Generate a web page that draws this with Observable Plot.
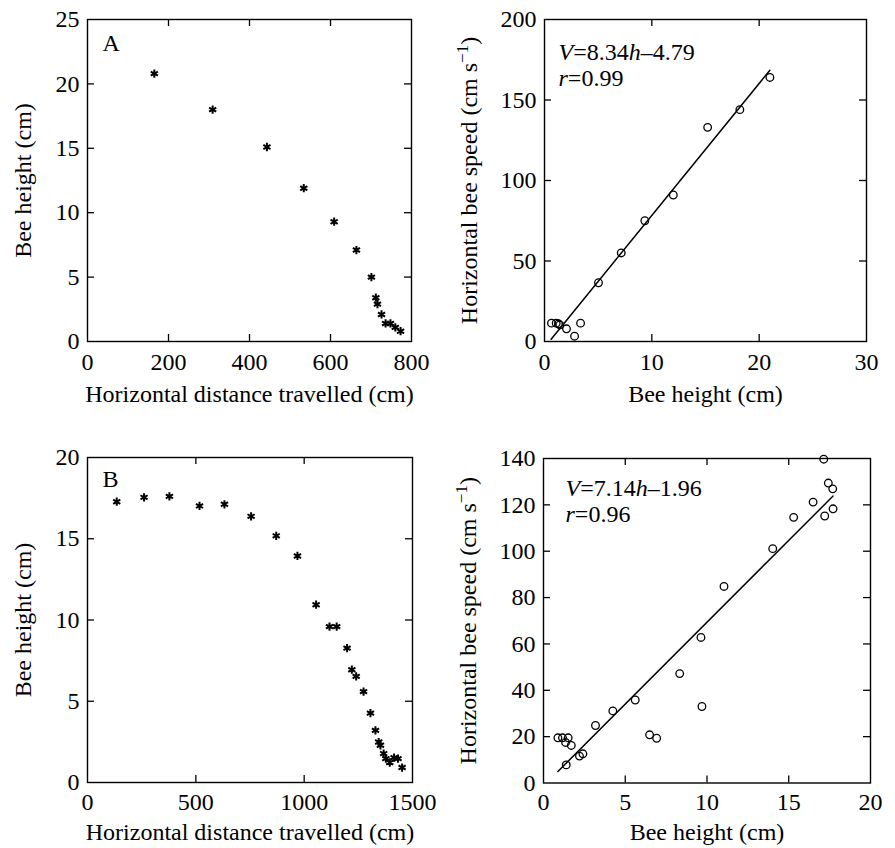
<!DOCTYPE html>
<html><head><meta charset="utf-8">
<script src="https://cdn.jsdelivr.net/npm/d3@7"></script>
<script src="https://cdn.jsdelivr.net/npm/@observablehq/plot@0.6"></script>
<style>
body{margin:0;background:#fff;}
#fig{position:relative;width:895px;height:848px;background:#fff;overflow:hidden;font-family:"Liberation Serif","Times New Roman",serif;}
#fig > div{position:absolute;}
#fig svg, #fig svg text{font-family:"Liberation Serif","Times New Roman",serif !important;}
</style></head><body><div id="fig"></div>
<script>
// ---------- Data ----------
// Panel A (top-left): horizontal distance (cm) vs bee height (cm)
const distA   = [165, 309, 443, 534, 609, 664, 701, 712, 716, 726, 736, 748, 760, 773];
const heightA = [20.8, 18.0, 15.1, 11.9, 9.3, 7.1, 5.0, 3.4, 2.9, 2.1, 1.4, 1.4, 1.1, 0.8];
// Panel A right: bee height (cm) vs horizontal bee speed (cm/s)
const hA = [21.0, 18.2, 15.2, 12.0, 9.35, 7.15, 5.03, 3.36, 2.8, 2.05, 1.43, 1.3, 1.09, 0.65];
const vA = [164, 144, 133, 91, 75, 55, 36.5, 11.4, 3.3, 7.9, 10.3, 11.0, 11.4, 11.4];
const fitAh = [0.62, 21.0];
const fitAv = [1.4, 168.5];
const eqA = ["*V*=8.34*h*–4.79", "*r*=0.99"];

// Panel B (bottom-left)
const distB   = [135, 261, 378, 517, 632, 755, 871, 969, 1055, 1117, 1150, 1198, 1220, 1240, 1274, 1306, 1329, 1344, 1352, 1367, 1377, 1395, 1415, 1433, 1452];
const heightB = [17.28, 17.55, 17.61, 17.02, 17.12, 16.38, 15.18, 13.94, 10.94, 9.59, 9.59, 8.27, 6.94, 6.53, 5.59, 4.27, 3.21, 2.49, 2.29, 1.78, 1.47, 1.23, 1.53, 1.47, 0.92];
// Panel B right
const hB = [17.14, 17.42, 17.69, 17.71, 17.2, 16.49, 15.3, 14.02, 11.04, 9.63, 9.69, 8.33, 5.61, 4.24, 3.18, 6.49, 6.92, 2.41, 2.2, 0.88, 1.16, 1.51, 1.35, 1.70, 1.39];
const vB = [139.7, 129.4, 126.9, 118.3, 115.2, 121.2, 114.6, 101.1, 84.8, 62.8, 33.0, 47.2, 35.8, 31.1, 24.8, 20.8, 19.3, 12.6, 11.6, 19.5, 19.5, 19.5, 17.5, 16.2, 7.8];
const fitBh = [0.88, 17.71];
const fitBv = [4.96, 123.8];
const eqB = ["*V*=7.14*h*–1.96", "*r*=0.96"];

// Tick values and labels
const ticksDistA = [0, 200, 400, 600, 800];
const ticksHeightA = [0, 5, 10, 15, 20, 25];
const ticksHA = [0, 10, 20, 30];
const ticksVA = [0, 50, 100, 150, 200];
const ticksDistB = [0, 500, 1000, 1500];
const ticksHeightB = [0, 5, 10, 15, 20];
const ticksHB = [0, 5, 10, 15, 20];
const ticksVB = [0, 20, 40, 60, 80, 100, 120, 140];

const labelDist = "Horizontal distance travelled (cm)";
const labelHeight = "Bee height (cm)";
const labelSpeed = "Horizontal bee speed (cm s^{−1})";
const letters = ["A", "B"];

// ---------- Drawing ----------
const FONT = "Liberation Serif, Times New Roman, serif";
const FS = 24;
const zip = (xs, ys) => xs.map((x, i) => ({x, y: ys[i]}));

function rich(textEl) {
  const s = textEl.textContent;
  if (!/[\*\^]/.test(s)) return;
  textEl.textContent = "";
  const re = /\*([^*]+)\*|\^\{([^}]+)\}|([^*^]+)/g;
  let m, shifted = false;
  while ((m = re.exec(s))) {
    const t = document.createElementNS("http://www.w3.org/2000/svg", "tspan");
    if (m[1]) { t.textContent = m[1]; t.setAttribute("font-style", "italic"); }
    else if (m[2]) { t.textContent = m[2]; t.setAttribute("dy", "-9"); t.setAttribute("font-size", "17"); shifted = true; }
    else { t.textContent = m[3]; if (shifted) { t.setAttribute("dy", "9"); shifted = false; } }
    textEl.appendChild(t);
  }
}

function panel(o) {
  const [mt, mr, mb, ml] = o.margins;
  const iw = o.width - ml - mr, ih = o.height - mt - mb;
  const T = 7;
  const xIn = o.xTicks.slice(1, -1), yIn = o.yTicks.slice(1, -1);
  const stroke = {stroke: "black", strokeWidth: 1.3};
  const txt = {fontSize: FS, fontFamily: FONT, fill: "black"};
  const marks = [
    Plot.frame({stroke: "black", strokeWidth: 1.4}),
    Plot.tickX(xIn, {x: d => d, insetTop: ih - T, ...stroke}),
    Plot.tickX(xIn, {x: d => d, insetBottom: ih - T, ...stroke}),
    Plot.tickY(yIn, {y: d => d, insetRight: iw - T, ...stroke}),
    Plot.tickY(yIn, {y: d => d, insetLeft: iw - T, ...stroke}),
    Plot.axisX({ticks: o.xTicks, tickSize: 0, tickPadding: o.xPad, tickFormat: d => String(d), label: null, ...txt}),
    Plot.axisY({ticks: o.yTicks, tickSize: 0, tickPadding: 8, tickFormat: d => String(d), label: null, ...txt}),
    Plot.text([o.xLabel], {frameAnchor: "bottom", dy: o.xLabelDy, lineAnchor: "bottom", ...txt}),
    Plot.text([o.yLabel], {frameAnchor: "left", dx: o.yLabelDx, rotate: -90, lineAnchor: "middle", textAnchor: "middle", className: "rich", ...txt})
  ];
  if (o.line) marks.push(Plot.line(o.line, {x: "x", y: "y", stroke: "black", strokeWidth: 1.5}));
  if (o.symbol === "asterisk")
    marks.push(Plot.dot(o.data, {x: "x", y: "y", symbol: "asterisk", r: 3.9, stroke: "black", strokeWidth: 2}));
  else
    marks.push(Plot.dot(o.data, {x: "x", y: "y", symbol: "circle", r: 3.8, fill: "none", stroke: "black", strokeWidth: 1.3}));
  if (o.letter) marks.push(Plot.text([o.letter], {frameAnchor: "top-left", dx: 15, dy: o.letterDy, lineAnchor: "bottom", textAnchor: "start", ...txt}));
  if (o.eq) {
    o.eq.forEach((s, i) => marks.push(Plot.text([s], {frameAnchor: "top-left", dx: o.eqDx, dy: o.eqDy + i * 26, lineAnchor: "bottom", textAnchor: "start", className: "rich", ...txt})));
  }
  const svg = Plot.plot({
    width: o.width, height: o.height,
    marginTop: mt, marginRight: mr, marginBottom: mb, marginLeft: ml,
    x: {domain: [o.xTicks[0], o.xTicks[o.xTicks.length - 1]]},
    y: {domain: [o.yTicks[0], o.yTicks[o.yTicks.length - 1]]},
    style: {fontFamily: FONT, fontSize: FS + "px", background: "white", color: "black", overflow: "visible"},
    marks
  });
  svg.querySelectorAll(".rich text").forEach(rich);
  const wrap = document.createElement("div");
  wrap.style.left = o.left + "px";
  wrap.style.top = o.top + "px";
  wrap.appendChild(svg);
  document.getElementById("fig").appendChild(wrap);
}

panel({left: 0, top: 0, width: 447, height: 424, margins: [19, 36, 83, 87],
  xTicks: ticksDistA, yTicks: ticksHeightA, xLabel: labelDist, yLabel: labelHeight, yLabelDx: -64, xPad: 11, xLabelDy: 60,
  data: zip(distA, heightA), symbol: "asterisk", letter: letters[0], letterDy: 31});
panel({left: 447, top: 0, width: 448, height: 424, margins: [19, 29, 83, 97],
  xTicks: ticksHA, yTicks: ticksVA, xLabel: labelHeight, yLabel: labelSpeed, yLabelDx: -75, xPad: 11, xLabelDy: 60,
  data: zip(hA, vA), symbol: "circle", line: zip(fitAh, fitAv), eq: eqA, eqDx: 14, eqDy: 40});
panel({left: 0, top: 424, width: 447, height: 424, margins: [33, 35, 66, 87],
  xTicks: ticksDistB, yTicks: ticksHeightB, xLabel: labelDist, yLabel: labelHeight, yLabelDx: -64, xPad: 10, xLabelDy: 57,
  data: zip(distB, heightB), symbol: "asterisk", letter: letters[1], letterDy: 29});
panel({left: 447, top: 424, width: 448, height: 424, margins: [34, 25, 65.5, 96],
  xTicks: ticksHB, yTicks: ticksVB, xLabel: labelHeight, yLabel: labelSpeed, yLabelDx: -75, xPad: 10, xLabelDy: 57,
  data: zip(hB, vB), symbol: "circle", line: zip(fitBh, fitBv), eq: eqB, eqDx: 22, eqDy: 37});
</script>
</body></html>
